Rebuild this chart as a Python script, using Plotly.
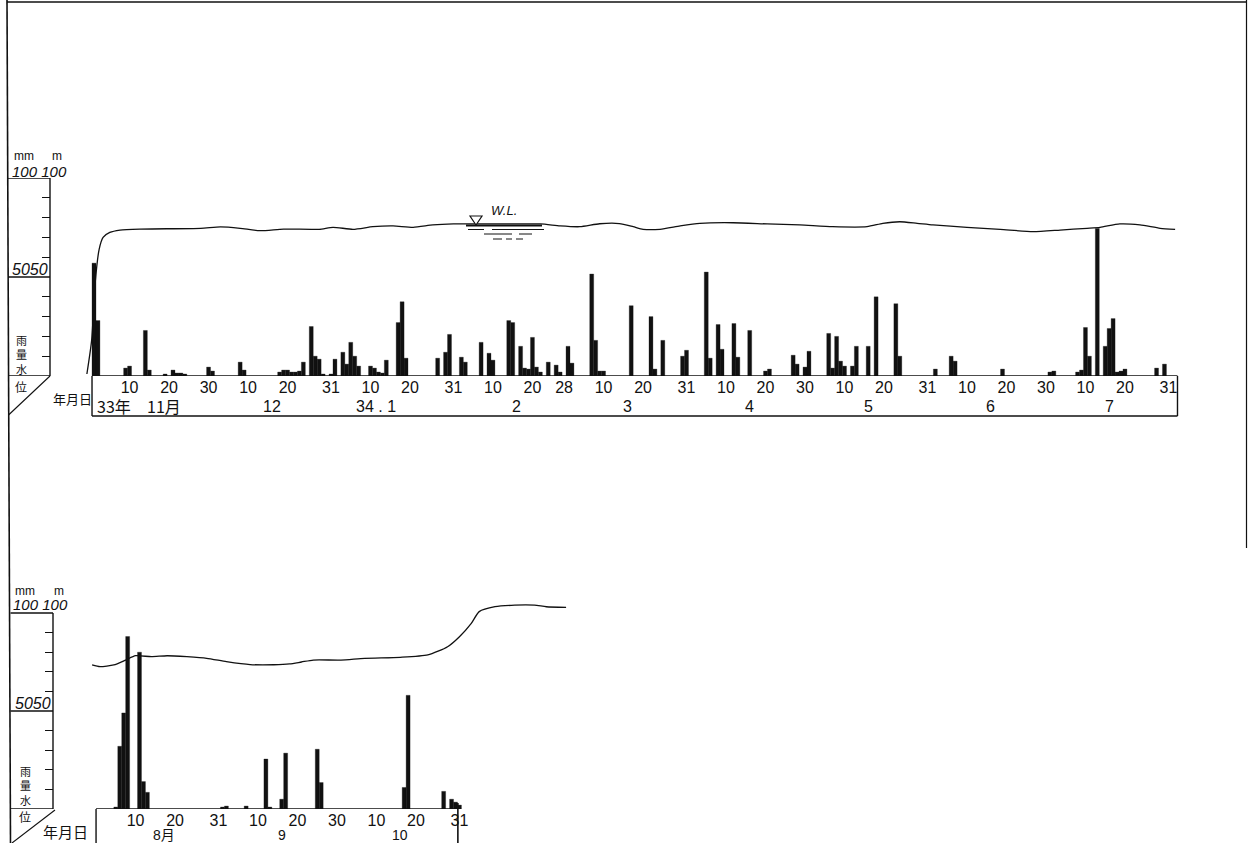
import plotly.graph_objects as go

W, H = 1249, 843

# ---------------- data: upper chart (1958-11-01 = day 0 ... 1959-07-31 = day 272) ----------------
top_rain_day = [0, 1, 8, 9, 13, 14, 18, 20, 21, 22, 23, 29, 30, 37, 38, 47, 48, 49, 50, 51, 52, 53,
                55, 56, 57, 58, 60, 61, 63, 64, 65, 66, 67, 70, 71, 72, 73, 74, 77, 78, 79,
                87, 89, 90, 93, 94, 98, 100, 101, 105, 106, 108, 109, 110, 111, 112, 113, 115,
                117, 118, 120, 121, 126, 127, 128, 129, 136, 141, 142, 144, 149, 150, 155, 156,
                158, 159, 162, 163, 166, 170, 171, 177, 178, 180, 181, 186, 187, 188, 189, 190,
                192, 193, 196, 198, 203, 204, 213, 217, 218, 230, 242, 243, 249, 250, 251, 252,
                254, 256, 257, 258, 259, 260, 261, 269, 271]
top_rain_mm = [57, 28, 4, 5, 23, 3, 1, 3, 1.5, 1.5, 1, 4.5, 2.5, 7, 3, 2, 3, 3, 2, 2, 2.5, 7,
               25, 10, 8.5, 1, 1, 8.5, 12, 6, 17, 10, 5, 5, 4, 2, 1.5, 8, 27, 37.5, 9,
               9, 12, 21, 9.5, 7, 17, 11.5, 8, 28, 27, 15, 4, 3.5, 19.5, 4.5, 2, 7,
               5.5, 2, 15, 6.5, 51.5, 18, 2.5, 2.5, 35.5, 30, 3.5, 18, 10, 13, 52.5, 9,
               26, 13.5, 26.5, 9.5, 23, 2.5, 3.5, 10.5, 6, 4.5, 12.5, 21.5, 4, 20, 7.5, 5,
               5, 15, 15, 40, 36.5, 10, 3.5, 10, 7.5, 3.5, 2, 2.5, 2, 3, 24.5, 10,
               74.5, 15, 24, 29, 2, 2.5, 3.5, 4, 6]
top_wl_day = [-1.8, -0.6, 0.3, 1.3, 2.3, 4.0, 6.6, 11.6, 27.0, 32.0, 37.0, 42.0, 48.0, 57.0,
              60.5, 65.6, 70.6, 75.7, 80.8, 85.8, 91.0, 103.0, 113.0, 118.0, 123.0, 128.0,
              133.0, 136.5, 139.0, 143.3, 148.4, 153.4, 161.8, 170.4, 178.7, 187.0, 195.7,
              199.7, 204.0, 208.4, 212.4, 221.0, 229.4, 237.7, 244.6, 251.4, 254.7, 259.7,
              264.8, 269.9, 273.7]
top_wl_m = [1, 18, 47, 64, 70, 72.5, 73.7, 74.2, 74.6, 75.3, 74.6, 73.4, 74.2, 74.1,
            75.1, 74.1, 75.4, 75.8, 75.1, 76.3, 76.8, 76.8, 76.8, 75.8, 75.4, 76.9,
            77.0, 75.4, 74.1, 74.1, 75.8, 77.1, 77.4, 76.8, 76.3, 75.4, 75.4,
            77.1, 77.9, 77.1, 76.3, 75.1, 74.1, 72.9, 73.7, 74.6, 75.1, 76.8,
            76.3, 74.6, 74.1]
top_tick_day = [9, 19, 29, 39, 49, 60, 70, 80, 91, 101, 111, 119, 129, 139, 150, 160, 170, 180,
                190, 200, 211, 221, 231, 241, 251, 261, 272]
top_tick_text = ["10", "20", "30", "10", "20", "31", "10", "20", "31", "10", "20", "28", "10", "20",
                 "31", "10", "20", "30", "10", "20", "31", "10", "20", "30", "10", "20", "31"]
top_month_day = [15, 45, 76, 107, 135, 166, 196, 227, 257]
top_month_text = ["11月", "12", "34 . 1", "2", "3", "4", "5", "6", "7"]
top_year_text = "33年"

# ---------------- data: lower chart (1959-08-01 = day 0 ... 10-31 = day 91) ----------------
bot_rain_day = [4, 5, 6, 7, 10, 11, 12, 31, 32, 37, 42, 43, 46, 47, 55, 56, 77, 78, 87, 89, 90, 91]
bot_rain_mm = [1, 32, 49, 88, 80, 14, 8.5, 1, 1.5, 1.5, 25.5, 1, 5, 28.5, 30.5, 13.5, 11, 58,
               9, 5, 3.5, 2]
bot_wl_day = [-2, 0, 3.5, 6.5, 9, 13, 17, 22, 27, 32, 38, 44, 48, 51, 54, 61, 67, 76, 83, 88,
              91, 94, 96, 100, 105, 110, 113, 118]
bot_wl_m = [73.5, 72.6, 73.5, 76, 78.2, 77.7, 78.2, 77.7, 76.9, 75.2, 73.7, 73.6, 74, 75, 76,
            76, 76.9, 77.4, 78.6, 82.8, 87.9, 94.7, 100.7, 103.2, 104, 104, 103.2, 102.9]
bot_tick_day = [9, 19, 30, 40, 50, 60, 70, 80, 91]
bot_tick_text = ["10", "20", "31", "10", "20", "30", "10", "20", "31"]
bot_month_day = [15, 46, 76]
bot_month_text = ["8月", "9", "10"]

y_ticks = [10, 20, 30, 40, 60, 70, 80, 90]
y_marks = [0, 50, 100]
side_label = ["雨", "量", "水", "位"]

# ---------------- layout geometry (pixels) ----------------
PXD = 3.95                 # pixels per day
TOP_X0, BOT_X0 = 94, 100   # pixel of day 0
TOP_BASE, TOP_100 = 376, 178
BOT_BASE, BOT_TOP = 809, 590
BOT_PXU = 1.96

INK = "#111111"
NUM_FONT = "Liberation Sans"
CJK_FONT = "Noto Sans CJK JP"
MIX_FONT = NUM_FONT + ", " + CJK_FONT


def px(x):
    return x / W


def py(y):
    return 1 - y / H


fig = go.Figure()

fig.add_trace(go.Bar(x=top_rain_day, y=top_rain_mm, width=1.0, xaxis="x", yaxis="y",
                     marker=dict(color=INK, line=dict(color=INK, width=0.3)), hoverinfo="x+y"))
fig.add_trace(go.Scatter(x=top_wl_day, y=top_wl_m, mode="lines", xaxis="x", yaxis="y",
                         line=dict(color=INK, width=1.3, shape="spline", smoothing=0.6)))
fig.add_trace(go.Bar(x=bot_rain_day, y=bot_rain_mm, width=1.0, xaxis="x2", yaxis="y2",
                     marker=dict(color=INK, line=dict(color=INK, width=0.3)), hoverinfo="x+y"))
fig.add_trace(go.Scatter(x=bot_wl_day, y=bot_wl_m, mode="lines", xaxis="x2", yaxis="y2",
                         line=dict(color=INK, width=1.3, shape="spline", smoothing=0.6)))

tickfont = dict(family=NUM_FONT, size=16, color=INK)
xcommon = dict(showgrid=False, zeroline=False, showline=False, ticks="", tickfont=tickfont,
               fixedrange=True)
ycommon = dict(showgrid=False, zeroline=False, showline=False, ticks="outside", ticklen=8,
               tickwidth=1.3, tickcolor=INK, tickvals=y_ticks, showticklabels=False,
               anchor="free", fixedrange=True)

fig.update_layout(
    width=W, height=H, margin=dict(l=0, r=0, t=0, b=0),
    paper_bgcolor="white", plot_bgcolor="rgba(0,0,0,0)", showlegend=False,
    barmode="overlay",
    xaxis=dict(domain=[px(86), px(1182)], range=[(86 - TOP_X0) / PXD, (1182 - TOP_X0) / PXD],
               anchor="y", tickvals=top_tick_day, ticktext=top_tick_text, **xcommon),
    yaxis=dict(domain=[py(TOP_BASE), py(TOP_100)], range=[0, 100], position=px(50), **ycommon),
    xaxis2=dict(domain=[px(88), px(572)], range=[(88 - BOT_X0) / PXD, (572 - BOT_X0) / PXD],
                anchor="y2", tickvals=bot_tick_day, ticktext=bot_tick_text, **xcommon),
    yaxis2=dict(domain=[py(BOT_BASE), py(BOT_TOP)], range=[0, (BOT_BASE - BOT_TOP) / BOT_PXU],
                position=px(53), **ycommon),
)

shapes = []


def seg(x0, y0, x1, y1, xref="paper", yref="paper", w=1.4):
    shapes.append(dict(type="line", x0=x0, y0=y0, x1=x1, y1=y1, xref=xref, yref=yref,
                       line=dict(color=INK, width=w)))


# scan frame
seg(px(7), py(0), px(10.5), py(843), w=1.6)
seg(px(7), py(2), px(1247), py(2), w=1.4)
seg(px(1246.5), py(0), px(1246.5), py(548), w=1.2)

# upper chart: scale column
seg(px(50), 0, px(50), 100, yref="y", w=1.4)
for v in y_marks:
    seg(px(8), v, px(50), v, yref="y", w=1.5)
seg(px(8.5), py(415), px(50), py(376), w=1.1)
# upper chart: date box
seg(-0.5, 0, 274.3, 0, xref="x", yref="y", w=1.5)
seg(-0.5, py(376), -0.5, py(416), xref="x", w=1.4)
seg(274.3, py(376), 274.3, py(416), xref="x", w=1.4)
seg(-0.5, py(416), 274.3, py(416), xref="x", w=1.4)

# lower chart: scale column
seg(px(53), 0, px(53), 100, yref="y2", w=1.4)
for v in y_marks:
    seg(px(10.5), v, px(53), v, yref="y2", w=1.5)
seg(px(12), py(843), px(55), py(810), w=1.1)
# lower chart: date box
seg(-1, 0, 90.6, 0, xref="x2", yref="y2", w=1.5)
seg(-1, py(809), -1, py(843), xref="x2", w=1.4)
seg(90.6, py(803), 90.6, py(843), xref="x2", w=1.6)

# W.L. mark
shapes.append(dict(type="path", xref="paper", yref="paper",
                   path=f"M {px(470)} {py(216)} L {px(482)} {py(216)} L {px(476)} {py(225)} Z",
                   line=dict(color=INK, width=1.2), fillcolor="white"))
seg(px(466), py(225.5), px(542), py(225.5), w=2.2)
for (a, b, yy) in [(468, 484, 229.5), (492, 544, 229.5), (484, 512, 234), (519, 532, 234),
                   (493, 502, 239), (506, 512, 239), (516, 523, 239)]:
    seg(px(a), py(yy), px(b), py(yy), w=1.0)

fig.update_layout(shapes=shapes)

ann = []


def text(t, x, y, size, family=NUM_FONT, italic=False, xanchor="center", xref="paper"):
    ann.append(dict(text=t, x=x, y=y, xref=xref, yref="paper", xanchor=xanchor,
                    yanchor="middle", showarrow=False,
                    font=dict(family=family, size=size, color=INK,
                              style="italic" if italic else "normal")))


# upper chart texts
text("mm", px(12), py(156), 12, xanchor="left")
text("m", px(50), py(156), 12, xanchor="left")
text("100 100", px(10), py(171), 15, italic=True, xanchor="left")
text("5050", px(10), py(269), 16, italic=True, xanchor="left")
text("<br>".join(side_label[:3]), px(21), py(354), 11, family=CJK_FONT)
text(side_label[3], px(21), py(386), 12, family=CJK_FONT)
text("年月日", px(51), py(398), 13, family=CJK_FONT, xanchor="left")
text(top_year_text, 0.25, py(406), 16, family=CJK_FONT, xanchor="left", xref="x")
for d, t in zip(top_month_day, top_month_text):
    if "月" in t:
        text(t, d - 2, py(406), 16, family=CJK_FONT, xanchor="left", xref="x")
    elif "." in t:
        text(t, d + 1, py(406), 16, family=NUM_FONT, xanchor="right", xref="x")
    else:
        text(t, d, py(406), 16, family=NUM_FONT, xref="x")
text("W.L.", px(504), py(211), 13, italic=True)

# lower chart texts
text("mm", px(13), py(591), 12, xanchor="left")
text("m", px(52), py(591), 12, xanchor="left")
text("100 100", px(11), py(604), 15, italic=True, xanchor="left")
text("5050", px(13), py(703), 16, italic=True, xanchor="left")
text("<br>".join(side_label[:3]), px(25), py(785), 11, family=CJK_FONT)
text(side_label[3], px(25), py(816), 12, family=CJK_FONT)
text("年月日", px(41), py(831), 15, family=CJK_FONT, xanchor="left")
for d, t in zip(bot_month_day, bot_month_text):
    if "月" in t:
        text(t, d - 2, py(835), 14, family=MIX_FONT, xanchor="left", xref="x2")
    else:
        text(t, d, py(835), 14, family=NUM_FONT, xref="x2")

fig.update_layout(annotations=ann)

fig.write_html(
    "out.html",
    config={"displayModeBar": False},
    post_script="document.body.style.margin='0';document.body.style.padding='0';"
                "document.body.style.overflow='hidden';",
)
